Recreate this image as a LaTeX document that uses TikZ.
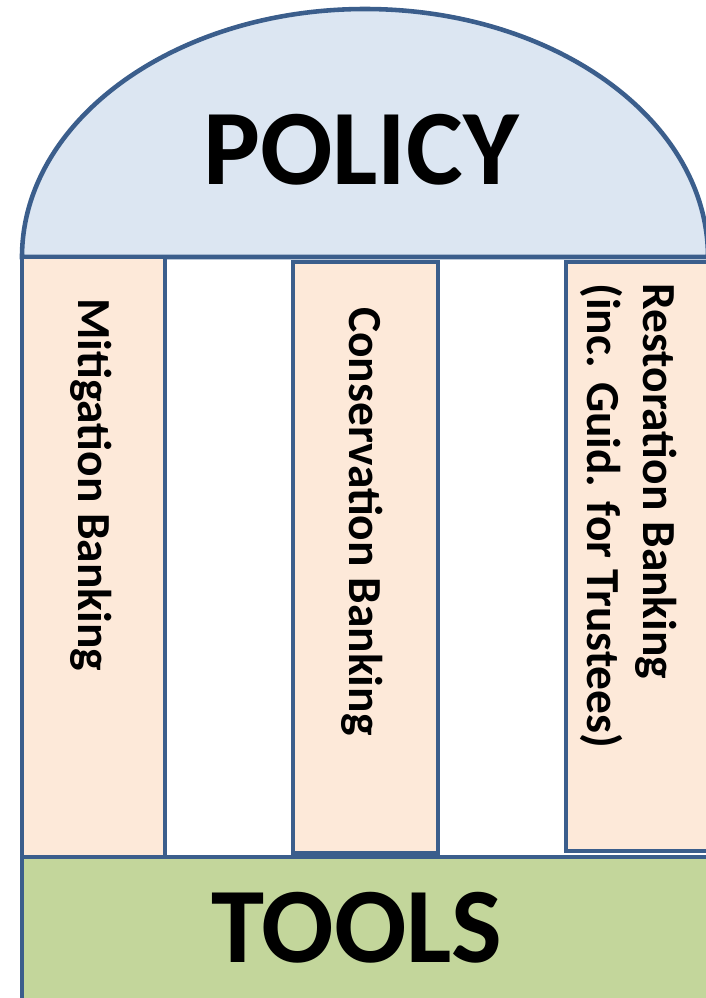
\documentclass[tikz,border=0pt]{standalone}
\usepackage{fontspec}
\setmainfont{Carlito}
\definecolor{edge}{RGB}{59,94,140}
\definecolor{domefill}{RGB}{220,230,242}
\definecolor{pillarfill}{RGB}{253,233,217}
\definecolor{basefill}{RGB}{195,214,155}

\begin{document}
\begin{tikzpicture}[x=0.02cm,y=-0.02cm]
\tikzstyle{every node}+=[inner sep=0pt]
\tikzstyle{part}=[draw=edge,line width=2.6pt]
\tikzstyle{bigword}=[font=\bfseries\fontsize{61}{66}\selectfont]
\tikzstyle{pillarword}=[font=\bfseries\fontsize{27}{32}\selectfont,rotate=-90,anchor=base west,align=left]
\useasboundingbox (0,0) rectangle (706,998);
\clip (0,0) rectangle (706,998);
% dome
\draw [part,fill=domefill] (22,257) .. controls (22,120) and (176,9) .. (365,9)
  .. controls (554,9) and (708,120) .. (708,257) -- cycle;
% pillars
\draw [part,fill=pillarfill] (22,257) rectangle (165,857);
\draw [part,fill=pillarfill] (293,262) rectangle (438,853);
\draw [part,fill=pillarfill] (566,262) rectangle (714,851);
% base
\draw [part,fill=basefill] (22,857) rectangle (714,1012);
\node [bigword] (policy) at (361,150) {POLICY};
\node [bigword] (tools) at (357,928) {TOOLS};
\node [pillarword] (mitigation) at (78,298) {Mitigation Banking};
\node [pillarword] (conservation) at (349,307) {Conservation Banking};
\node [pillarword] (restoration) at (587,283) {Restoration Banking\\(inc. Guid. for Trustees)};
\end{tikzpicture}
\end{document}
